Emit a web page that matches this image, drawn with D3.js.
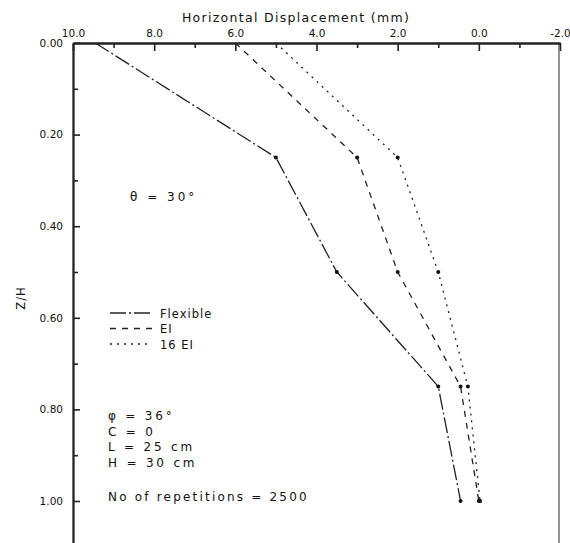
<!DOCTYPE html>
<html>
<head>
<meta charset="utf-8">
<script src="https://cdn.jsdelivr.net/npm/d3@7"></script>
<style>
  html, body { margin: 0; padding: 0; background: #fff; }
  svg { display: block; }
  text { font-family: "DejaVu Sans", sans-serif; fill: #111; }
</style>
</head>
<body>
<svg id="chart" width="570" height="543"></svg>
<script>
// ---- data ----
const depthRatio = [0, 0.25, 0.5, 0.75, 1.0];
const flexibleDisp = [9.45, 5.0, 3.5, 1.0, 0.45];
const eiDisp = [6.0, 3.0, 2.0, 0.45, 0.0];
const ei16Disp = [5.0, 2.0, 1.0, 0.27, -0.03];
const seriesNames = ["Flexible", "EI", "16 EI"];
const xMajorTicks = [10, 8, 6, 4, 2, 0, -2];
const xMajorLabels = ["10.0", "8.0", "6.0", "4.0", "2.0", "0.0", "-2.0"];
const xMinorTicks = [9, 7, 5, 3, 1, -1];
const yMajorTicks = [0, 0.2, 0.4, 0.6, 0.8, 1.0];
const yMajorLabels = ["0.00", "0.20", "0.40", "0.60", "0.80", "1.00"];
const yMinorTicks = [0.1, 0.3, 0.5, 0.7, 0.9];
const notes = ["\u03C6 = 36\u00B0", "C = 0", "L = 25 cm", "H = 30 cm"];

// ---- layout ----
const svg = d3.select("#chart");
const pLeft = 73, pRight = 560, pTop = 43, pBottom = 543;
const x = d3.scaleLinear().domain([10, -2]).range([pLeft, pRight]);
const y = d3.scaleLinear().domain([0, 500 / 458]).range([pTop, pBottom]);

svg.append("rect").attr("width", 570).attr("height", 543).attr("fill", "#fff");

// frame
svg.append("line").attr("x1", pRight - 1).attr("x2", pRight - 1).attr("y1", pTop).attr("y2", pBottom)
  .attr("stroke", "#666").attr("stroke-width", 1.4);

// x axis (top)
const xMaj = svg.append("g").attr("transform", `translate(0,${pTop})`)
  .call(d3.axisTop(x).tickValues(xMajorTicks).tickSizeInner(-8).tickSizeOuter(0).tickPadding(6)
    .tickFormat((d, i) => xMajorLabels[i]));
const xMin = svg.append("g").attr("transform", `translate(0,${pTop})`)
  .call(d3.axisTop(x).tickValues(xMinorTicks).tickSizeInner(-5).tickSizeOuter(0).tickFormat(""));

// y axis (left)
const yMaj = svg.append("g").attr("transform", `translate(${pLeft},0)`)
  .call(d3.axisLeft(y).tickValues(yMajorTicks).tickSizeInner(-7).tickSizeOuter(0).tickPadding(10)
    .tickFormat((d, i) => yMajorLabels[i]));
const yMin = svg.append("g").attr("transform", `translate(${pLeft},0)`)
  .call(d3.axisLeft(y).tickValues(yMinorTicks).tickSizeInner(-5).tickSizeOuter(0).tickFormat(""));

[xMaj, xMin, yMaj, yMin].forEach(g => {
  g.selectAll("path.domain").attr("stroke", "#222").attr("stroke-width", 1.8);
  g.selectAll(".tick line").attr("stroke", "#222").attr("stroke-width", 1.6);
  g.selectAll("text").attr("font-size", 10.5).attr("fill", "#111")
    .style("font-family", "DejaVu Sans, sans-serif");
});

// titles
svg.append("text").attr("x", 296).attr("y", 22).attr("text-anchor", "middle")
  .attr("font-size", 12.5).attr("letter-spacing", 1.3).text("Horizontal Displacement (mm)");
svg.append("text").attr("transform", "translate(25,298) rotate(-90)").attr("text-anchor", "middle")
  .attr("font-size", 11.5).attr("letter-spacing", 1).text("Z/H");

// series
const styles = [
  { name: seriesNames[0], vals: flexibleDisp, dash: "16,3,2,3" },
  { name: seriesNames[1], vals: eiDisp, dash: "6,6" },
  { name: seriesNames[2], vals: ei16Disp, dash: "2,5" }
];
const line = d3.line().x(d => x(d[0])).y(d => y(d[1]));
styles.forEach(s => {
  const pts = s.vals.map((v, i) => [v, depthRatio[i]]);
  svg.append("path").attr("d", line(pts)).attr("fill", "none")
    .attr("stroke", "#222").attr("stroke-width", 1.3).attr("stroke-dasharray", s.dash);
  svg.selectAll(null).data(pts.slice(1)).enter().append("circle")
    .attr("cx", d => x(d[0])).attr("cy", d => y(d[1])).attr("r", 2).attr("fill", "#111");
});

// legend
styles.forEach((s, i) => {
  const ly = 313 + i * 15.5;
  svg.append("line").attr("x1", 110).attr("x2", 152).attr("y1", ly).attr("y2", ly)
    .attr("stroke", "#222").attr("stroke-width", 1.4).attr("stroke-dasharray", s.dash);
  svg.append("text").attr("x", 160).attr("y", ly + 4.5).attr("font-size", 11.5)
    .attr("letter-spacing", 1).text(s.name);
});

// annotations
svg.append("text").attr("x", 130).attr("y", 201).attr("font-size", 12)
  .attr("letter-spacing", 3).text("\u03B8 = 30\u00B0");
notes.forEach((t, i) => {
  svg.append("text").attr("x", 108).attr("y", 420 + i * 15.5).attr("font-size", 12)
    .attr("letter-spacing", 2.8).text(t);
});
svg.append("text").attr("x", 108).attr("y", 501).attr("font-size", 12)
  .attr("letter-spacing", 2.2).text("No of repetitions = 2500");
</script>
</body>
</html>
